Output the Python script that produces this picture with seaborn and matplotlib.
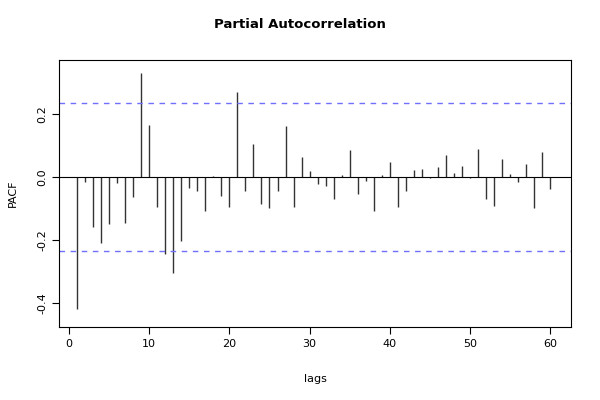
import matplotlib
matplotlib.use("Agg")
import matplotlib.pyplot as plt
import seaborn as sns
import numpy as np

lags = list(range(1, 61))
pacf = [-0.42, -0.015, -0.16, -0.21, -0.15, -0.02, -0.145, -0.065, 0.33, 0.165,
        -0.095, -0.245, -0.305, -0.205, -0.035, -0.045, -0.11, 0.002, -0.06, -0.095,
        0.27, -0.045, 0.105, -0.085, -0.1, -0.045, 0.16, -0.095, 0.062, 0.017,
        -0.022, -0.028, -0.07, 0.005, 0.085, -0.055, -0.013, -0.11, 0.005, 0.047,
        -0.095, -0.045, 0.02, 0.025, -0.005, 0.032, 0.07, 0.012, 0.035, -0.005,
        0.088, -0.072, -0.092, 0.057, 0.01, -0.018, 0.04, -0.1, 0.08, -0.04]
ci = 0.234

sns.set_style("white")
fig = plt.figure(figsize=(6, 4), dpi=100)
ax = fig.add_axes([59/600, 73/400, 512/600, 267/400])
ax.vlines(lags, 0, pacf, color="#333333", linewidth=1)
sns.lineplot(x=[-5, 70], y=[0, 0], color="black", linewidth=0.8, ax=ax)
for v in (ci, -ci):
    ax.axhline(v, color="#7070ff", linestyle=(0, (4, 4)), linewidth=1)
ax.set_xlim(-1.25, 62.6)
ax.set_ylim(-0.476, 0.37)
ax.set_xticks([0, 10, 20, 30, 40, 50, 60])
ax.set_yticks([-0.4, -0.2, 0.0, 0.2])
ax.set_yticklabels(["-0.4", "-0.2", "0.0", "0.2"], rotation=90, va="center")
for s in ax.spines.values():
    s.set_color("black"); s.set_linewidth(0.8)
ax.tick_params(axis="both", which="both", length=5, direction="out", labelsize=8,
               bottom=True, left=True, color="black", labelcolor="black")
ax.set_xlabel("lags", fontsize=8, labelpad=18, color="black")
ax.set_ylabel("PACF", fontsize=8, labelpad=14, color="black")
fig.suptitle("Partial Autocorrelation", fontsize=9.5, fontweight="bold", y=0.955, color="black")
fig.savefig("out.png", dpi=100)
